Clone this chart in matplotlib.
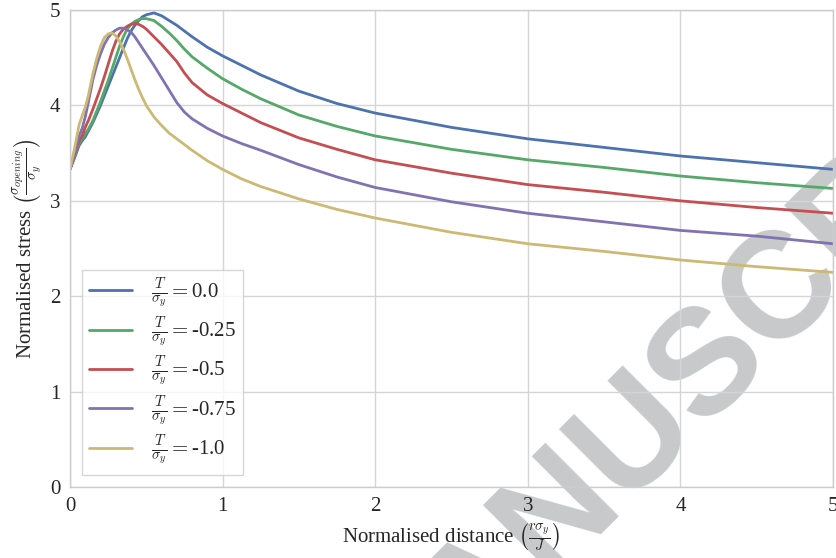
import matplotlib
matplotlib.use("Agg")
import matplotlib.pyplot as plt

# distance r*sigma_y/J, shared by all curves
x = [0, 0.03, 0.06, 0.08, 0.1, 0.12, 0.15, 0.175, 0.2, 0.225, 0.25, 0.275, 0.3, 0.325,
     0.35, 0.375, 0.4, 0.425, 0.45, 0.475, 0.5, 0.55, 0.6, 0.65, 0.7, 0.75, 0.8, 0.9,
     1.0, 1.125, 1.25, 1.5, 1.75, 2.0, 2.5, 3.0, 3.5, 4.0, 4.5, 5.0]

t_00 = [3.33, 3.45, 3.58, 3.63, 3.67, 3.73, 3.82, 3.91, 4.00, 4.10, 4.20, 4.30, 4.40, 4.50,
        4.60, 4.70, 4.78, 4.84, 4.89, 4.93, 4.95, 4.97, 4.94, 4.89, 4.84, 4.78, 4.72, 4.61,
        4.52, 4.42, 4.32, 4.15, 4.02, 3.92, 3.77, 3.65, 3.56, 3.47, 3.40, 3.33]
t_025 = [3.33, 3.46, 3.60, 3.65, 3.70, 3.75, 3.84, 3.94, 4.04, 4.15, 4.26, 4.38, 4.50, 4.62,
         4.72, 4.80, 4.85, 4.88, 4.90, 4.91, 4.91, 4.89, 4.83, 4.76, 4.68, 4.59, 4.51, 4.39,
         4.28, 4.17, 4.07, 3.90, 3.78, 3.68, 3.54, 3.43, 3.35, 3.26, 3.19, 3.13]
t_05 = [3.33, 3.48, 3.63, 3.68, 3.77, 3.84, 3.96, 4.07, 4.18, 4.30, 4.43, 4.56, 4.67, 4.75,
        4.80, 4.83, 4.85, 4.86, 4.85, 4.83, 4.80, 4.72, 4.64, 4.55, 4.46, 4.34, 4.24, 4.11,
        4.02, 3.92, 3.82, 3.66, 3.54, 3.43, 3.29, 3.17, 3.09, 3.00, 2.93, 2.87]
t_075 = [3.33, 3.50, 3.68, 3.76, 3.88, 4.03, 4.27, 4.42, 4.54, 4.64, 4.71, 4.76, 4.79, 4.81,
         4.81, 4.79, 4.77, 4.72, 4.66, 4.60, 4.54, 4.42, 4.29, 4.16, 4.03, 3.93, 3.86, 3.76,
         3.68, 3.60, 3.53, 3.38, 3.25, 3.14, 2.99, 2.87, 2.78, 2.69, 2.63, 2.55]
t_10 = [3.33, 3.55, 3.80, 3.89, 3.98, 4.10, 4.33, 4.49, 4.62, 4.71, 4.75, 4.76, 4.73, 4.67,
        4.59, 4.49, 4.38, 4.27, 4.17, 4.08, 4.00, 3.88, 3.79, 3.71, 3.65, 3.59, 3.53, 3.42,
        3.33, 3.23, 3.15, 3.02, 2.91, 2.82, 2.67, 2.55, 2.47, 2.38, 2.31, 2.25]

labels = ["0.0", "-0.25", "-0.5", "-0.75", "-1.0"]
series = [t_00, t_025, t_05, t_075, t_10]
colors = ["#4C72B0", "#55A868", "#C44E52", "#8172B2", "#CCB974"]

plt.style.use("seaborn-v0_8-whitegrid")
plt.rcParams["font.family"] = ["Liberation Serif", "DejaVu Serif"]
plt.rcParams["mathtext.fontset"] = "cm"
plt.rcParams["text.color"] = "#262626"
plt.rcParams["xtick.color"] = "#262626"
plt.rcParams["ytick.color"] = "#262626"

fig = plt.figure(figsize=(8.37, 5.58), dpi=100)
fig.patch.set_facecolor("white")
ax = fig.add_axes([0.0836, 0.1272, 0.9116, 0.8548])
ax.set_facecolor("none")

# watermark sits under everything
fig.text(708 / 837, 1 - 362 / 558, "MANUSCRIPT", fontsize=108, fontweight="bold",
         family="Liberation Sans", color="#c8c9ca", rotation=45,
         rotation_mode="anchor", ha="center", va="center", zorder=-1)

for vals, lab, c in zip(series, labels, colors):
    ax.plot(x, vals, color=c, lw=2, label=r"$\frac{T}{\sigma_y} = $" + lab)

ax.set_xlim(0, 5)
ax.set_ylim(0, 5)
ax.set_xticks([0, 1, 2, 3, 4, 5])
ax.set_yticks([0, 1, 2, 3, 4, 5])
ax.tick_params(labelsize=15, length=0, pad=7)
for s in ax.spines.values():
    s.set_color("#cccccc")
    s.set_visible(True)
ax.grid(color="#d5d5d5", lw=1)

ax.set_xlabel(r"Normalised distance $\left(\frac{r\sigma_y}{J}\right)$", fontsize=15)
ax.set_ylabel(r"Normalised stress $\left(\frac{\sigma_{opening}}{\sigma_y}\right)$", fontsize=15)

leg = ax.legend(loc="lower left", fontsize=15, frameon=True, fancybox=False,
                borderaxespad=0.6, borderpad=0.3, handlelength=2.1, labelspacing=0.25,
                handletextpad=0.9)
leg.get_frame().set_edgecolor("#cccccc")
leg.get_frame().set_facecolor("white")

fig.savefig("out.png", dpi=100)
